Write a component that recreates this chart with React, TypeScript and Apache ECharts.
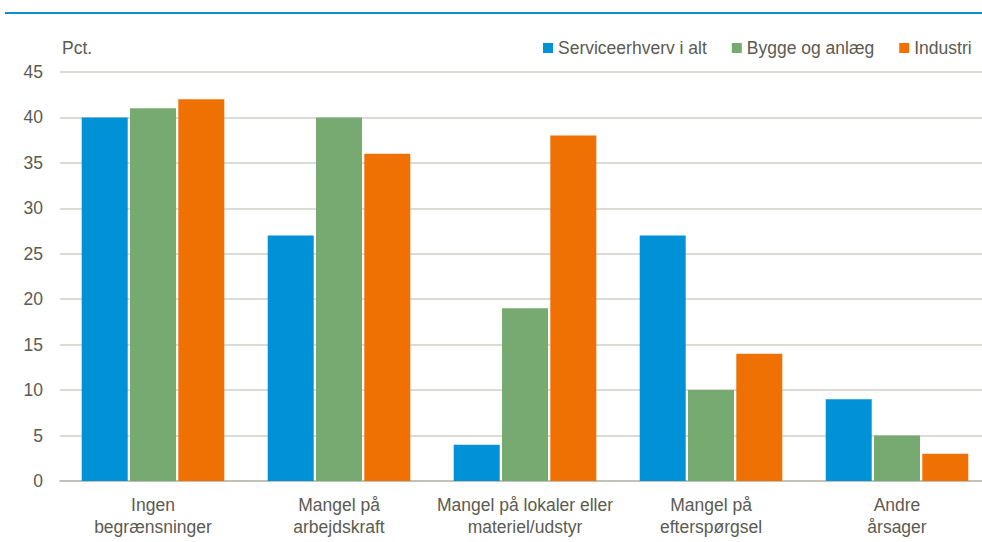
import React, { useEffect, useRef } from "react";
import * as echarts from "echarts";

const categories = [
  "Ingen\nbegrænsninger",
  "Mangel på\narbejdskraft",
  "Mangel på lokaler eller\nmateriel/udstyr",
  "Mangel på\nefterspørgsel",
  "Andre\nårsager",
];
const service = [40, 27, 4, 27, 9];
const byggeri = [41, 40, 19, 10, 5];
const industri = [42, 36, 38, 14, 3];
const seriesNames = ["Serviceerhverv i alt", "Bygge og anlæg", "Industri"];
const colors = ["#0091d6", "#77aa70", "#ef7103"];

export default function App() {
  const ref = useRef<HTMLDivElement>(null);
  useEffect(() => {
    if (!ref.current) return;
    const chart = echarts.init(ref.current, null, { renderer: "svg" });
    const font = "'Liberation Sans', Arial, sans-serif";
    const txt = "#5b5b52";
    const fs = 17.5;
    const values = [service, byggeri, industri];
    chart.setOption({
      animation: false,
      textStyle: { fontFamily: font },
      grid: { left: 60, right: 0, top: 72, bottom: 61, containLabel: false },
      legend: {
        left: 538,
        top: 34,
        icon: "rect",
        itemWidth: 10,
        itemHeight: 10,
        itemGap: 25,
        textStyle: { fontSize: fs, color: txt, fontFamily: font },
        data: seriesNames,
      },
      graphic: [
        {
          type: "line",
          shape: { x1: 5, y1: 13, x2: 990, y2: 13 },
          style: { stroke: "#0a8fd0", lineWidth: 2 },
        },
        {
          type: "text",
          x: 62,
          y: 48,
          style: {
            text: "Pct.",
            fontSize: fs,
            fill: txt,
            fontFamily: font,
            verticalAlign: "middle",
          },
        },
      ],
      xAxis: {
        type: "category",
        data: categories,
        axisTick: { show: false },
        axisLine: { lineStyle: { color: "#b8b8b0", width: 1.5 } },
        axisLabel: {
          fontSize: fs,
          color: txt,
          lineHeight: 22,
          margin: 13,
          interval: 0,
          fontFamily: font,
        },
      },
      yAxis: {
        type: "value",
        min: 0,
        max: 45,
        interval: 5,
        axisLabel: { fontSize: fs, color: txt, margin: 17, fontFamily: font },
        splitLine: { lineStyle: { color: "#cfcfc8", width: 1.5 } },
        axisLine: { show: false },
        axisTick: { show: false },
      },
      series: seriesNames.map((name, i) => ({
        name,
        type: "bar",
        data: values[i],
        barWidth: 46,
        barGap: "5%",
        itemStyle: { color: colors[i] },
      })),
    });
    return () => chart.dispose();
  }, []);
  return (
    <div
      style={{
        position: "fixed",
        left: 0,
        top: 0,
        width: 982,
        height: 542,
        overflow: "hidden",
        background: "#fff",
      }}
    >
      <div ref={ref} style={{ width: 990, height: 542 }} />
    </div>
  );
}
